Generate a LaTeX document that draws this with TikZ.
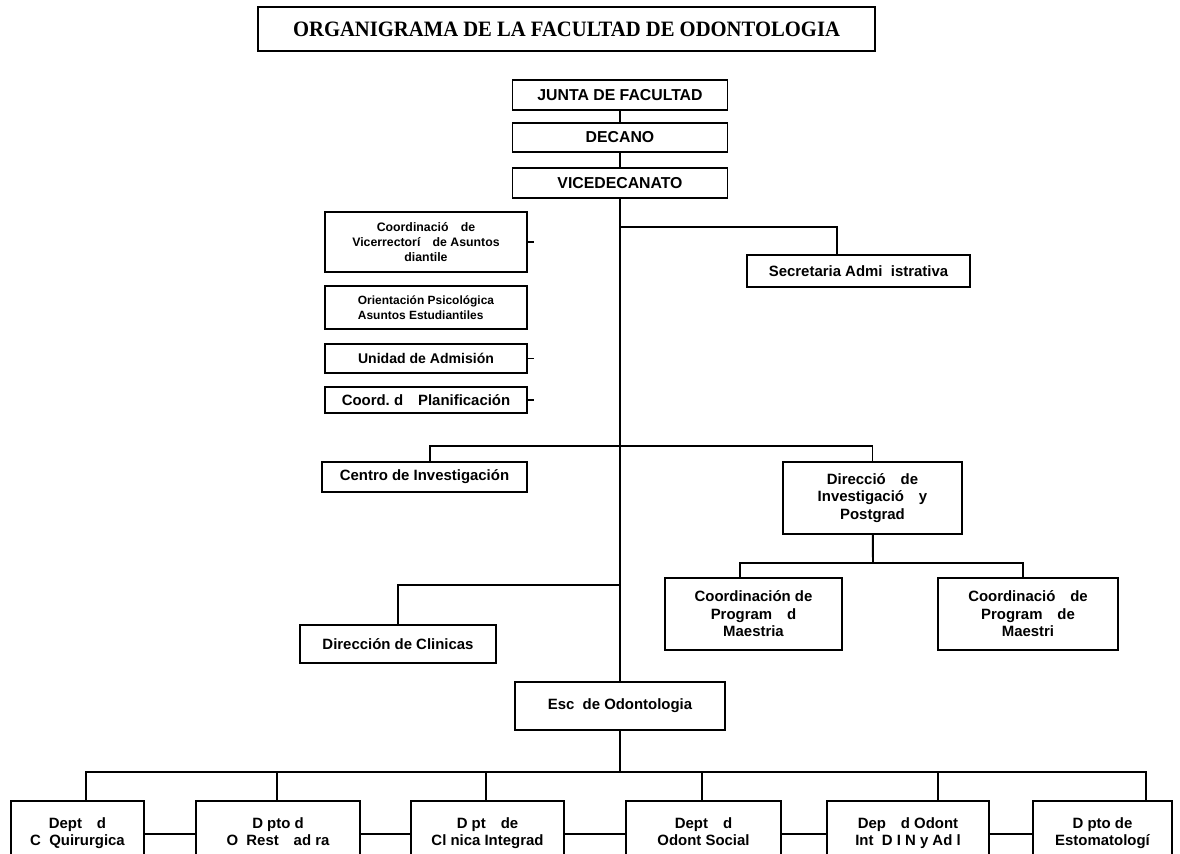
\documentclass[tikz,border=0pt]{standalone}
\usepackage{fontspec}
\setmainfont{Liberation Sans}
\newfontfamily\titlefont[FakeStretch=0.94]{Liberation Serif}
\usepackage{tikz}
\usetikzlibrary{calc}

\begin{document}
\begin{tikzpicture}[x=0.02cm, y=-0.02cm,
    box/.style={draw, line width=1.1pt, fill=white, align=center, inner sep=1pt,
      font=\bfseries\fontsize{8.5}{10}\selectfont},
    topbox/.style={box, minimum width=4.3cm, minimum height=0.6cm,
      font=\bfseries\fontsize{9}{10}\selectfont},
    staffbox/.style={box, minimum width=4.04cm},
    deptbox/.style={box, anchor=north, inner ysep=0.34cm,
      font=\bfseries\fontsize{8.5}{9.6}\selectfont},
    link/.style={line width=1.1pt}]
    \useasboundingbox (0,0) rectangle (1180,854);
    \clip (0,0) rectangle (1180,854);

    % Title
    \node[draw, line width=1.1pt, minimum width=12.34cm, minimum height=0.88cm,
      font=\titlefont\bfseries\fontsize{12.5}{14}\selectfont] (title) at (566.5,29)
      {ORGANIGRAMA DE LA FACULTAD DE ODONTOLOGIA};

    % Upper chain
    \node[topbox] (junta) at (620,95) {JUNTA DE FACULTAD};
    \node[topbox, minimum height=0.58cm] (decano) at (620,137.5) {DECANO};
    \node[topbox] (vice) at (620,183) {VICEDECANATO};
    \draw[link] (junta) -- (decano);
    \draw[link] (decano) -- (vice);

    % Staff units on the left
    \node[staffbox, minimum height=1.2cm, font=\bfseries\fontsize{7}{8.5}\selectfont] (coorvice) at (426,242)
      {Coordinació\quad de\\Vicerrectorí\quad de Asuntos\\diantile};
    \node[staffbox, minimum height=0.86cm, align=left, font=\bfseries\fontsize{6.8}{8.5}\selectfont] (orient) at (426,307.5)
      {Orientación Psicológica\\Asuntos Estudiantiles};
    \node[staffbox, minimum height=0.58cm, font=\bfseries\fontsize{8}{9}\selectfont] (admision) at (426,358.5)
      {Unidad de Admisión};
    \node[staffbox, minimum height=0.52cm] (planif) at (426,400) {Coord.\ d\quad Planificación};
    \foreach \n in {coorvice, admision, planif}
      \draw[link] (\n.east) -- ++(6,0);

    % Secretaria
    \node[box, minimum width=4.46cm, minimum height=0.64cm] (secre) at (858.5,271) {Secretaria Admi\ \ istrativa};
    \coordinate (secj) at (620,227);
    \draw[link] (secj) -| (secre.north -| 837,0);

    % Investigacion
    \node[box, minimum width=4.1cm, minimum height=0.6cm] (centro) at (424.5,477) {Centro de Investigación};
    \node[box, minimum width=3.58cm, minimum height=1.44cm] (direc) at (872.5,498)
      {Direcció\quad de\\Investigació\quad y\\Postgrad};
    \coordinate (invj) at (620,446);
    \draw[link] (centro.north -| 430,0) |- (invj) -| (direc.north);

    % Postgrado
    \node[box, minimum width=3.54cm, minimum height=1.44cm] (coorA) at (753.5,614)
      {Coordinación de\\Program\quad d\\Maestria};
    \node[box, minimum width=3.6cm, minimum height=1.44cm] (coorB) at (1028,614)
      {Coordinació\quad de\\Program\quad de\\Maestri};
    \coordinate (posj) at (873,563);
    \draw[link] (direc) -- (posj);
    \draw[link] (coorA.north -| 740,0) |- (posj) -| (coorB.north -| 1023,0);

    % Clinicas
    \node[box, minimum width=3.92cm, minimum height=0.76cm] (clinicas) at (398,644) {Dirección de Clinicas};
    \coordinate (clij) at (620,585);
    \draw[link] (clinicas.north) |- (clij);

    % Escuela
    \node[box, minimum width=4.2cm, minimum height=0.96cm] (esc) at (620,706) {Esc\ \ de Odontologia};
    \draw[link] (vice) -- (esc);

    % Departamentos
    \node[deptbox, minimum width=2.66cm] (cq) at (77.5,800) {Dept\quad d\\C\ \ Quirurgica};
    \node[deptbox, minimum width=3.28cm] (ore) at (278,800) {D\ pto d\\O\ \ Rest\quad ad\ ra};
    \node[deptbox, minimum width=3.06cm] (ci) at (487.5,800) {D\ pt\quad de\\Cl\ nica Integrad};
    \node[deptbox, minimum width=3.1cm] (os) at (703.5,800) {Dept\quad d\\Odont Social};
    \node[deptbox, minimum width=3.24cm] (oi) at (908,800) {Dep\quad d\ Odont\\Int\ \ D\ I N\ y Ad\ l};
    \node[deptbox, minimum width=2.78cm] (es) at (1102.5,800) {D\ pto de\\Estomatologí};
    \coordinate (busj) at (620,772);
    \draw[link] (esc) -- (busj);
    \foreach \n/\dx in {cq/86, ore/277, ci/486, os/702, oi/938, es/1146}
      \draw[link] (\n.north -| \dx,0) |- (busj);
    \foreach \a/\b in {cq/ore, ore/ci, ci/os, os/oi, oi/es}
      \draw[link] (\a.east |- 0,834) -- (\b.west |- 0,834);
\end{tikzpicture}
\end{document}
